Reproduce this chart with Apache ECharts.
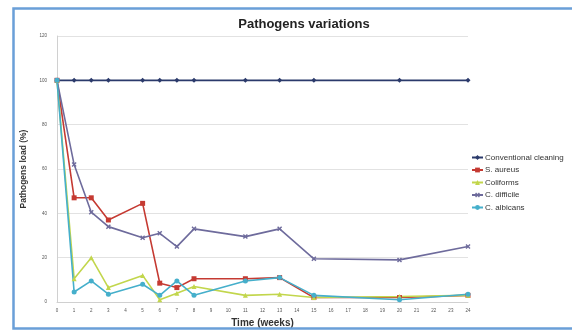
<!DOCTYPE html>
<html>
<head>
<meta charset="utf-8">
<script src="https://cdn.jsdelivr.net/npm/echarts@6/dist/echarts.min.js"></script>
<style>
  html, body { margin: 0; padding: 0; background: #fff; }
  #chart { width: 572px; height: 333px; }
</style>
</head>
<body>
<div id="chart"></div>
<script>
// Sampling weeks and pathogen load (%) per series
const weeks = [0, 1, 2, 3, 5, 6, 7, 8, 11, 13, 15, 20, 24];
const conventional = [100, 100, 100, 100, 100, 100, 100, 100, 100, 100, 100, 100, 100];
const sAureus = [100, 47, 47, 37, 44.5, 8.5, 6.5, 10.5, 10.5, 11, 2, 2, 3];
const coliforms = [100, 10.5, 20, 6.5, 12, 1, 4, 7, 3, 3.5, 2, 2.5, 3];
const cDifficile = [100, 62, 40.5, 34, 29, 31, 25, 33, 29.5, 33, 19.5, 19, 25];
const cAlbicans = [100, 4.5, 9.5, 3.5, 8, 3, 9.5, 3, 9.5, 11, 3, 1, 3.5];
const yTicks = [0, 20, 40, 60, 80, 100, 120];

const pairs = vals => weeks.map((w, i) => [w, vals[i]]);
const xMark = 'path://M0,2L2,0L5,3L8,0L10,2L7,5L10,8L8,10L5,7L2,10L0,8L3,5Z';

function line(name, vals, color, symbol, size) {
  return {
    name, type: 'line', data: pairs(vals),
    symbol, symbolSize: size,
    lineStyle: { color, width: 1.6 },
    itemStyle: { color },
    emphasis: { disabled: true }
  };
}

const chart = echarts.init(document.getElementById('chart'));
chart.setOption({
  backgroundColor: '#fff',
  animation: false,
  title: {
    text: 'Pathogens variations',
    left: 299, top: 13, textAlign: 'center',
    textStyle: { fontFamily: 'Liberation Sans', fontSize: 13, fontWeight: 'bold', color: '#222' }
  },
  graphic: [{
    type: 'rect', left: 11, top: 6,
    shape: { width: 575, height: 320 },
    style: { fill: 'none', stroke: '#6A9FD8', lineWidth: 2.5 },
    z: 100
  }],
  legend: {
    orient: 'vertical', left: 466, top: 148, itemGap: 3.5,
    itemWidth: 11, itemHeight: 6,
    textStyle: { fontFamily: 'Liberation Sans', fontSize: 8, lineHeight: 9, color: '#333', padding: [0, 0, 0, -3] },
    data: ['Conventional cleaning', 'S. aureus', 'Coliforms', 'C. difficile', 'C. albicans']
  },
  grid: { left: 57, right: 104, top: 36, bottom: 31 },
  xAxis: {
    type: 'value', min: 0, max: 24, interval: 1,
    name: 'Time (weeks)', nameLocation: 'middle', nameGap: 15,
    nameTextStyle: { fontFamily: 'Liberation Sans', fontSize: 10, fontWeight: 'bold', color: '#333' },
    axisLine: { lineStyle: { color: '#d0d0d0' } },
    axisTick: { show: false },
    splitLine: { show: false },
    axisLabel: { fontSize: 4.5, color: '#555', margin: 6 }
  },
  yAxis: {
    type: 'value', min: yTicks[0], max: yTicks[yTicks.length - 1], interval: 20,
    name: 'Pathogens load (%)', nameLocation: 'middle', nameGap: 25, nameRotate: 90,
    nameTextStyle: { fontFamily: 'Liberation Sans', fontSize: 8.5, fontWeight: 'bold', color: '#333' },
    axisLine: { show: true, lineStyle: { color: '#d0d0d0' } },
    axisTick: { show: false },
    splitLine: { lineStyle: { color: '#e2e2e2', width: 1 } },
    axisLabel: { fontSize: 4.5, color: '#555', margin: 10 }
  },
  series: [
    line('Conventional cleaning', conventional, '#2B3A6B', 'diamond', 5),
    line('S. aureus', sAureus, '#C53A32', 'rect', 5),
    line('Coliforms', coliforms, '#C2D64C', 'triangle', 5),
    line('C. difficile', cDifficile, '#6E6B9C', xMark, 5),
    line('C. albicans', cAlbicans, '#45AFCB', 'circle', 5)
  ]
});
</script>
</body>
</html>
